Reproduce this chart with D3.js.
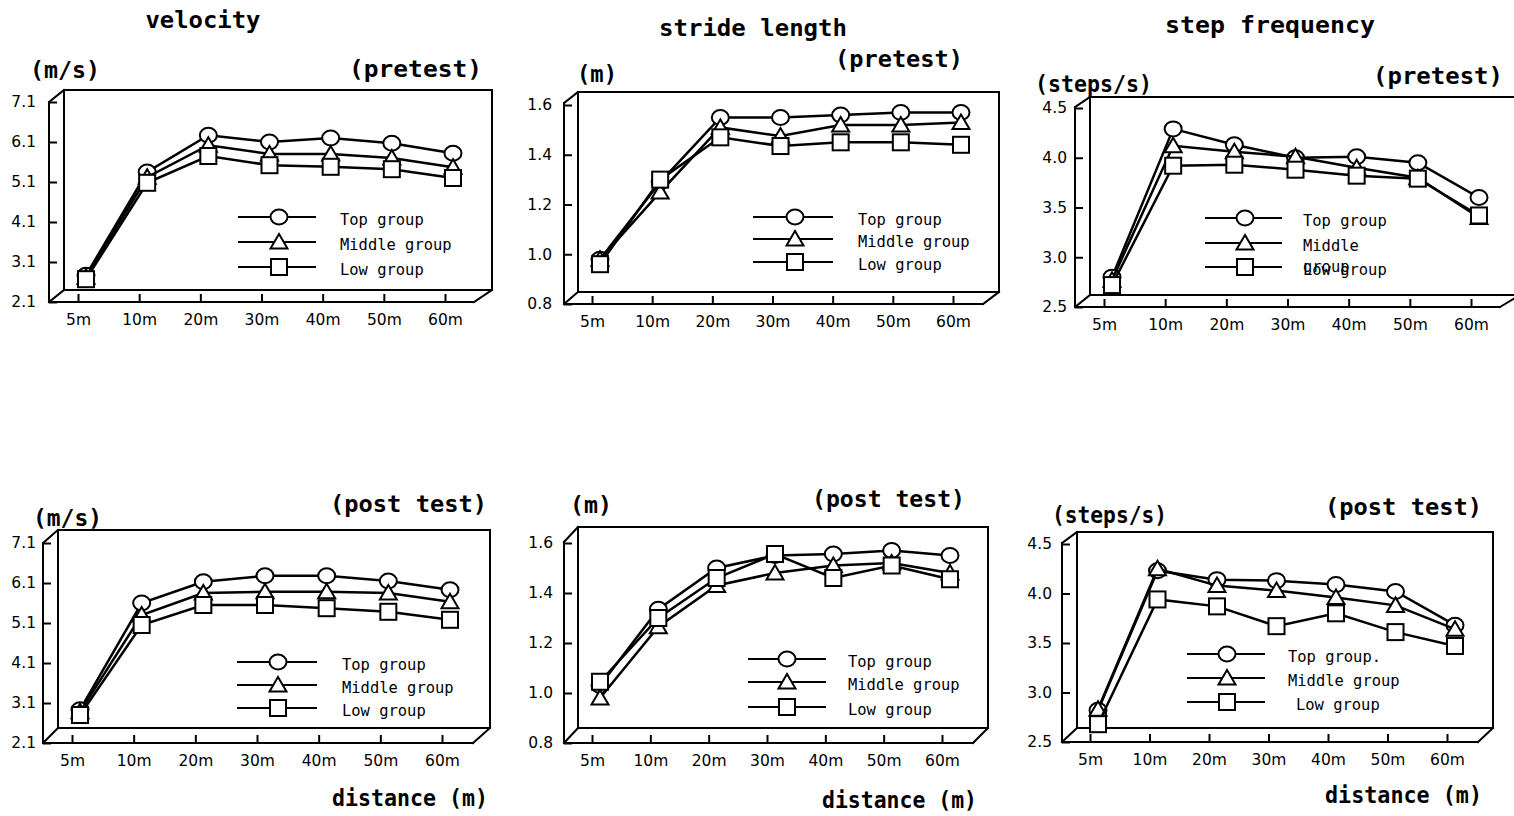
<!DOCTYPE html>
<html><head><meta charset="utf-8">
<script src="https://cdn.jsdelivr.net/npm/d3@7"></script>
<style>html,body{margin:0;background:#fff;} svg{display:block}</style>
</head><body>
<svg id="c" width="1514" height="816"></svg>
<script>
// ---------- data ----------
const categories = ["5m","10m","20m","30m","40m","50m","60m"];
const groups = ["Top group","Middle group","Low group"];

const velocityPreTop = [2.77, 5.35, 6.27, 6.10, 6.20, 6.07, 5.82];
const velocityPreMid = [2.72, 5.22, 6.02, 5.80, 5.80, 5.70, 5.47];
const velocityPreLow = [2.67, 5.08, 5.75, 5.52, 5.48, 5.42, 5.20];

const stridePreTop = [0.98, 1.29, 1.55, 1.55, 1.56, 1.57, 1.57];
const stridePreMid = [0.98, 1.25, 1.51, 1.475, 1.52, 1.52, 1.53];
const stridePreLow = [0.96, 1.30, 1.47, 1.435, 1.45, 1.45, 1.44];

const frequencyPreTop = [2.80, 4.29, 4.13, 4.00, 4.01, 3.95, 3.60];
const frequencyPreMid = [2.77, 4.12, 4.06, 4.01, 3.90, 3.80, 3.40];
const frequencyPreLow = [2.72, 3.92, 3.93, 3.88, 3.82, 3.79, 3.42];

const velocityPostTop = [2.93, 5.60, 6.13, 6.28, 6.28, 6.15, 5.93];
const velocityPostMid = [2.88, 5.30, 5.85, 5.88, 5.88, 5.85, 5.63];
const velocityPostLow = [2.80, 5.05, 5.55, 5.55, 5.47, 5.38, 5.18];

const stridePostTop = [1.03, 1.335, 1.50, 1.55, 1.556, 1.57, 1.55];
const stridePostMid = [0.98, 1.265, 1.43, 1.48, 1.51, 1.52, 1.48];
const stridePostLow = [1.045, 1.30, 1.46, 1.556, 1.46, 1.51, 1.455];

const frequencyPostTop = [2.82, 4.23, 4.14, 4.13, 4.09, 4.02, 3.68];
const frequencyPostMid = [2.83, 4.25, 4.08, 4.03, 3.96, 3.88, 3.64];
const frequencyPostLow = [2.68, 3.94, 3.87, 3.67, 3.80, 3.61, 3.47];

const velocityTicks = [2.1, 3.1, 4.1, 5.1, 6.1, 7.1];
const strideTicks = [0.8, 1.0, 1.2, 1.4, 1.6];
const frequencyTicks = [2.5, 3.0, 3.5, 4.0, 4.5];

const titles = ["velocity", "stride length", "step frequency"];
const units = ["(m/s)", "(m)", "(steps/s)"];
const phases = ["(pretest)", "(post test)"];
const xTitle = "distance (m)";

// ---------- layout ----------
const panels = [
  {series:[velocityPreTop,velocityPreMid,velocityPreLow], ticks:velocityTicks,
   x5:78, x60:445, xL:49, yTF:102, yB:302, bL:64, bT:90, bB:290, bR:492, fR:474,
   y0:302, y1:102, pad:13,
   leg:{x1:238,x2:316,mx:279,ys:[217,242,267],tx:[340,340,340]}},
  {series:[stridePreTop,stridePreMid,stridePreLow], ticks:strideTicks,
   x5:592, x60:953, xL:564, yTF:103, yB:304, bL:578, bT:92, bB:292, bR:999, fR:983,
   y0:304, y1:105, pad:12,
   leg:{x1:753,x2:833,mx:795,ys:[217,239,262],tx:[858,858,858]}},
  {series:[frequencyPreTop,frequencyPreMid,frequencyPreLow], ticks:frequencyTicks,
   x5:1104, x60:1471, xL:1075, yTF:107, yB:307, bL:1090, bT:97, bB:295, bR:1520, fR:1500,
   y0:307, y1:108, pad:8,
   leg:{x1:1205,x2:1282,mx:1245,ys:[218,243,267],tx:[1303,1303,1303]}},
  {series:[velocityPostTop,velocityPostMid,velocityPostLow], ticks:velocityTicks,
   x5:72, x60:442, xL:43, yTF:543, yB:743, bL:58, bT:530, bB:728, bR:490, fR:473,
   y0:743, y1:543, pad:7,
   leg:{x1:237,x2:317,mx:278,ys:[662,685,708],tx:[342,342,342]}},
  {series:[stridePostTop,stridePostMid,stridePostLow], ticks:strideTicks,
   x5:592, x60:942, xL:564, yTF:542, yB:743, bL:578, bT:527, bB:728, bR:988, fR:973,
   y0:743, y1:543, pad:11,
   leg:{x1:748,x2:826,mx:787,ys:[659,682,707],tx:[848,848,848]}},
  {series:[frequencyPostTop,frequencyPostMid,frequencyPostLow], ticks:frequencyTicks,
   x5:1090, x60:1447, xL:1062, yTF:543, yB:742, bL:1077, bT:532, bB:728, bR:1493, fR:1478,
   y0:742, y1:544, pad:10,
   leg:{x1:1187,x2:1265,mx:1227,ys:[654,678,702],tx:[1288,1288,1296]}}
];

const texts = [
  {t:titles[0], x:203, y:20, a:"middle", w:115},
  {t:units[0], x:30, y:70, a:"start", w:70},
  {t:phases[0], x:482, y:69, a:"end", w:133},
  {t:titles[1], x:753, y:28, a:"middle", w:188},
  {t:phases[0], x:963, y:59, a:"end", w:128},
  {t:units[1], x:577, y:74, a:"start", w:40},
  {t:titles[2], x:1270, y:25, a:"middle", w:210},
  {t:phases[0], x:1503, y:76, a:"end", w:130},
  {t:units[2], x:1035, y:84, a:"start", w:117},
  {t:phases[1], x:487, y:504, a:"end", w:157},
  {t:units[0], x:33, y:518, a:"start", w:69},
  {t:xTitle, x:488, y:798, a:"end", w:156},
  {t:phases[1], x:965, y:499, a:"end", w:153},
  {t:units[1], x:570, y:505, a:"start", w:42},
  {t:xTitle, x:977, y:800, a:"end", w:155},
  {t:phases[1], x:1482, y:507, a:"end", w:157},
  {t:units[2], x:1052, y:515, a:"start", w:115},
  {t:xTitle, x:1482, y:795, a:"end", w:157}
];

const svg = d3.select("#c");
const MONO = "'DejaVu Sans Mono', monospace";
const SANS = "'DejaVu Sans', sans-serif";

function drawMarker(g, type, x, y) {
  const s = {fill:"#fff", stroke:"#000", "stroke-width":2};
  let m;
  if (type === 0) m = g.append("ellipse").attr("cx", x).attr("cy", y).attr("rx", 8.5).attr("ry", 7.5);
  else if (type === 1) m = g.append("path").attr("d", `M${x},${y-8}L${x+8.5},${y+6.5}L${x-8.5},${y+6.5}Z`);
  else m = g.append("rect").attr("x", x-8).attr("y", y-8).attr("width", 16).attr("height", 16);
  for (const k in s) m.attr(k, s[k]);
}

panels.forEach((p, pi) => {
  const g = svg.append("g");
  // pseudo-3D frame
  const frame = [
    [[p.xL,p.yB],[p.xL,p.yTF]],
    [[p.xL,p.yTF],[p.bL,p.bT]],
    [[p.bL,p.bT],[p.bR,p.bT]],
    [[p.bR,p.bT],[p.bR,p.bB]],
    [[p.bL,p.bT],[p.bL,p.bB]],
    [[p.bL,p.bB],[p.bR,p.bB]],
    [[p.xL,p.yB],[p.bL,p.bB]],
    [[p.xL,p.yB],[p.fR,p.yB]],
    [[p.fR,p.yB],[p.bR,p.bB]]
  ];
  g.append("g").selectAll("line").data(frame).join("line")
    .attr("x1", d=>d[0][0]).attr("y1", d=>d[0][1]).attr("x2", d=>d[1][0]).attr("y2", d=>d[1][1])
    .attr("stroke", "#000").attr("stroke-width", 2).attr("stroke-linecap", "square");

  const x = d3.scalePoint().domain(categories).range([p.x5, p.x60]);
  const y = d3.scaleLinear().domain([p.ticks[0], p.ticks[p.ticks.length-1]]).range([p.y0, p.y1]);

  const ya = g.append("g").attr("transform", `translate(${p.xL},0)`)
    .call(d3.axisLeft(y).tickValues(p.ticks).tickFormat(d3.format(".1f")).tickSize(-8).tickPadding(p.pad));
  ya.select(".domain").remove();
  ya.selectAll("line").attr("stroke-width", 2);
  ya.selectAll("text").attr("font-family", SANS).attr("font-size", 15.5).attr("fill", "#000");

  const xa = g.append("g").attr("transform", `translate(0,${p.yB})`)
    .call(d3.axisBottom(x).tickSize(-8).tickPadding(12));
  xa.select(".domain").remove();
  xa.selectAll("line").attr("stroke-width", 2);
  xa.selectAll("text").attr("font-family", SANS).attr("font-size", 15.5).attr("fill", "#000");

  const off = 8;
  const line = d3.line().x((d,i)=>x(categories[i])+off).y(d=>y(d));
  p.series.forEach((s, si) => {
    g.append("path").attr("d", line(s)).attr("fill", "none").attr("stroke", "#000").attr("stroke-width", 2.5);
    s.forEach((v, i) => drawMarker(g, si, x(categories[i])+off, y(v)));
  });

  // legend
  const L = p.leg;
  groups.forEach((name, gi) => {
    g.append("line").attr("x1", L.x1).attr("x2", L.x2).attr("y1", L.ys[gi]).attr("y2", L.ys[gi])
      .attr("stroke", "#000").attr("stroke-width", 2);
    drawMarker(g, gi, L.mx, L.ys[gi]);
    let label = name;
    if (pi === 2 && gi === 1) label = "Middle";
    if (pi === 5 && gi === 0) label = "Top group.";
    g.append("text").attr("x", L.tx[gi]).attr("y", L.ys[gi] + 2).attr("dominant-baseline", "central")
      .attr("font-family", MONO).attr("font-size", 16.5)
      .attr("textLength", label.length * 9.3).attr("lengthAdjust", "spacingAndGlyphs").text(label);
    if (pi === 2 && gi === 1) {
      g.append("text").attr("x", L.tx[gi]).attr("y", L.ys[2] - 1).attr("dominant-baseline", "central")
        .attr("font-family", MONO).attr("font-size", 16.5)
        .attr("textLength", 5 * 9.3).attr("lengthAdjust", "spacingAndGlyphs").text("group");
    }
  });
});

svg.append("g").selectAll("text").data(texts).join("text")
  .attr("x", d=>d.x).attr("y", d=>d.y).attr("text-anchor", d=>d.a)
  .attr("dominant-baseline", "central")
  .attr("font-family", MONO).attr("font-weight", "bold").attr("font-size", 23)
  .attr("textLength", d=>d.w).attr("lengthAdjust", "spacingAndGlyphs")
  .text(d=>d.t);
</script>
</body></html>
